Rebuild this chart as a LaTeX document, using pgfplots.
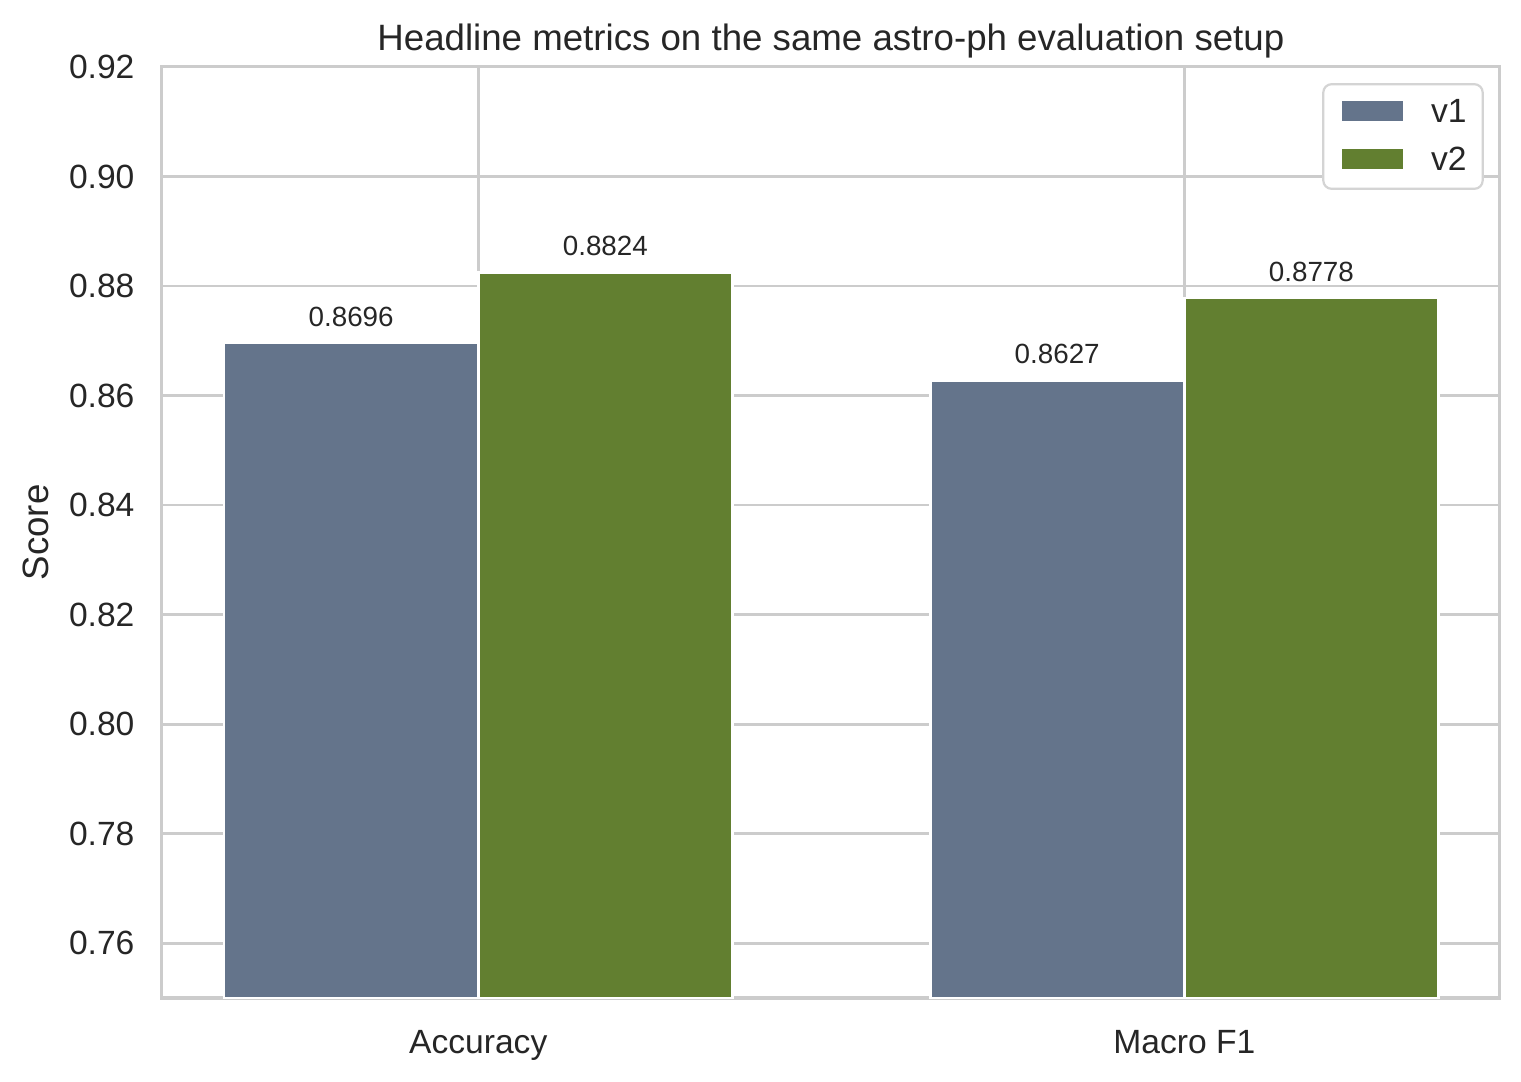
\documentclass[border=0pt]{standalone}
\usepackage{pgfplots}
\pgfplotsset{compat=1.18}
\usepackage{fontspec}
\setmainfont{Liberation Sans}
\definecolor{gridgray}{HTML}{CCCCCC}
\definecolor{txt}{HTML}{262626}
\definecolor{cvone}{HTML}{64748B}
\definecolor{cvtwo}{HTML}{627F30}
\begin{document}
\begin{tikzpicture}
\path (-58.3pt,-29.9pt) rectangle (489.3pt,359.3pt);
\begin{axis}[
  name=ax, at={(0,0)}, anchor=south west,
  scale only axis, width=481.7pt, height=335.2pt,
  xmin=-0.448, xmax=1.447, ymin=0.75, ymax=0.92,
  xtick={0,1}, xticklabels={Accuracy,Macro F1},
  ytick={0.76,0.78,0.80,0.82,0.84,0.86,0.88,0.90,0.92},
  /pgf/number format/.cd, fixed, fixed zerofill, precision=2, assume math mode=true,
  /pgfplots/.cd,
  grid=major,
  major grid style={draw=gridgray, line width=1pt},
  axis line style={draw=gridgray, line width=1.1pt},
  major tick length=0pt,
  tick style={draw=none},
  tick label style={font=\fontsize{12.1}{14}\selectfont, text=txt},
  yticklabel style={inner sep=0pt, xshift=-9.7pt},
  xticklabel style={inner sep=0pt, anchor=north, yshift=-11.5pt},
  ylabel={Score},
  ylabel style={font=\fontsize{13.2}{15}\selectfont, text=txt, at={(axis description cs:-0.0845,0.5)}, anchor=base},
  title={Headline metrics on the same astro-ph evaluation setup},
  title style={font=\fontsize{13.2}{15}\selectfont, text=txt, at={(axis description cs:0.5,1)}, anchor=base, yshift=0pt, inner sep=0pt},
  ybar, bar width=0.36,
  nodes near coords,
  point meta=explicit symbolic,
  every node near coord/.append style={font=\fontsize{10}{12}\selectfont, text=txt, inner sep=0pt, anchor=base, yshift=6.1pt},
  legend cell align=left,
  legend image code/.code={\fill[#1, sharp corners] (0pt,-3.4pt) rectangle (23pt,4.6pt);},
  legend style={at={(1,1)}, anchor=north east, xshift=-5.8pt, yshift=-5.8pt,
    draw=gridgray!85, line width=0.8pt, rounded corners=3pt, fill=white,
    font=\fontsize{12.1}{14}\selectfont, text=txt,
    inner xsep=5.8pt, inner ysep=5.2pt, row sep=7.2pt,
    nodes={inner sep=0pt}, column sep=9pt},
]
\addplot[fill=cvone, draw=white, line width=1pt, bar shift=-0.18] coordinates {(0,0.8696)[0.8696] (1,0.8627)[0.8627]};
\addlegendentry{v1}
\addplot[fill=cvtwo, draw=white, line width=1pt, bar shift=0.18] coordinates {(0,0.8824)[0.8824] (1,0.8778)[0.8778]};
\addlegendentry{v2}
\end{axis}
\end{tikzpicture}
\end{document}
